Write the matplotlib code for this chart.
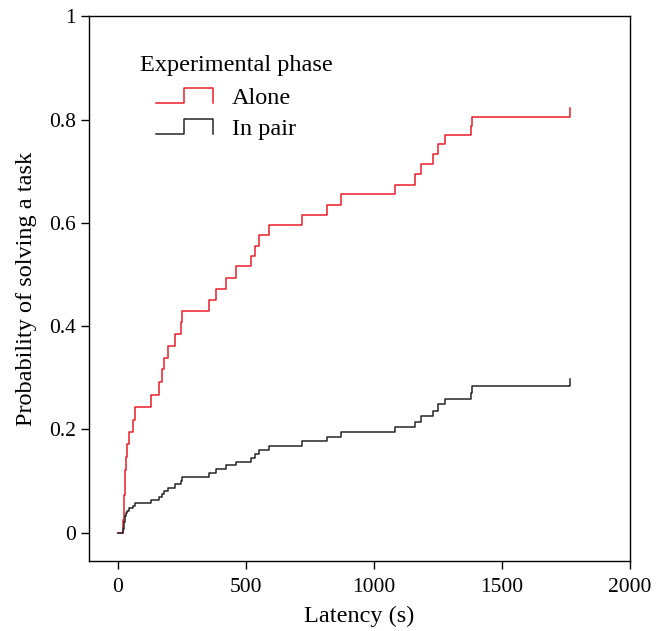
import matplotlib
matplotlib.use("Agg")
import matplotlib.pyplot as plt
from matplotlib.legend_handler import HandlerBase
from matplotlib.lines import Line2D

# ---- data ----
times = [0, 20, 22, 24, 26, 28, 30, 34, 42, 60, 68, 128, 161, 171, 180, 196, 225,
         246, 251, 355, 383, 421, 461, 522, 535, 553, 590, 718, 818, 870, 1082,
         1160, 1186, 1232, 1249, 1280, 1379, 1385, 1766]
alone = [0, 0.024, 0.049, 0.073, 0.098, 0.122, 0.146, 0.171, 0.195, 0.219, 0.244,
         0.2665, 0.291, 0.316, 0.339, 0.361, 0.384, 0.407, 0.429, 0.450, 0.4725,
         0.494, 0.516, 0.536, 0.556, 0.576, 0.595, 0.615, 0.635, 0.655, 0.674,
         0.695, 0.714, 0.7335, 0.752, 0.771, 0.788, 0.805, 0.822]
in_pair = [0, 0.007, 0.014, 0.021, 0.028, 0.033, 0.037, 0.042, 0.047, 0.051, 0.0566,
           0.0624, 0.068, 0.074, 0.080, 0.087, 0.095, 0.100, 0.108, 0.1147, 0.1225,
           0.130, 0.137, 0.145, 0.152, 0.160, 0.168, 0.177, 0.186, 0.195, 0.205,
           0.2147, 0.2258, 0.236, 0.2484, 0.259, 0.270, 0.284, 0.297]
series_names = ["Alone", "In pair"]
series_colors = ["#ec1c2a", "#262626"]
legend_title = "Experimental phase"
x_ticks = [0, 500, 1000, 1500, 2000]
x_ticklabels = ["0", "500", "1000", "1500", "2000"]
y_ticks = [0, 0.2, 0.4, 0.6, 0.8, 1.0]
y_ticklabels = ["0", "0.2", "0.4", "0.6", "0.8", "1"]
x_label = "Latency (s)"
y_label = "Probability of solving a task"

plt.rcParams['font.family'] = ['Liberation Serif', 'DejaVu Serif']
FS_TICK = 15.5
FS = 17.5

fig = plt.figure(figsize=(6.56, 6.31), dpi=100)
ax = fig.add_axes([0.136, 0.111, 0.824, 0.863])

lines = []
for ys, name, col in zip([alone, in_pair], series_names, series_colors):
    ln, = ax.step(times, ys, where='post', color=col, lw=1.1, label=name)
    lines.append(ln)

ax.set_xlim(-112, 2000)
ax.set_ylim(-0.055, 1.0)
ax.set_xticks(x_ticks)
ax.set_xticklabels(x_ticklabels)
ax.set_yticks(y_ticks)
ax.set_yticklabels(y_ticklabels)
ax.tick_params(direction='out', length=5.5, width=1.0, labelsize=FS_TICK, colors='black')
ax.tick_params(axis='x', pad=7)
ax.tick_params(axis='y', pad=4)
for s in ax.spines.values():
    s.set_linewidth(1.0)
ax.set_xlabel(x_label, fontsize=FS, labelpad=6)
ax.set_ylabel(y_label, fontsize=FS, labelpad=9)


class HandlerStep(HandlerBase):
    def create_artists(self, legend, orig_handle, xdescent, ydescent, width,
                       height, fontsize, trans):
        x0 = -xdescent
        y0 = -ydescent + 0.05 * height
        y1 = -ydescent + 0.95 * height
        xs = [x0, x0 + width / 2, x0 + width / 2, x0 + width, x0 + width]
        ys = [y0, y0, y1, y1, y0]
        l = Line2D(xs, ys, color=orig_handle.get_color(), lw=orig_handle.get_linewidth())
        l.set_transform(trans)
        return [l]


ax.text(0.0938, 0.900, legend_title, transform=ax.transAxes, fontsize=FS,
        ha='left', va='baseline')
leg = ax.legend(handles=lines, loc='upper left',
                bbox_to_anchor=(0.1234, 0.870), frameon=False, fontsize=FS,
                borderaxespad=0, borderpad=0, handlelength=2.35,
                handletextpad=0.78, labelspacing=0.37,
                handler_map={Line2D: HandlerStep()})

fig.savefig("out.png", dpi=100)
